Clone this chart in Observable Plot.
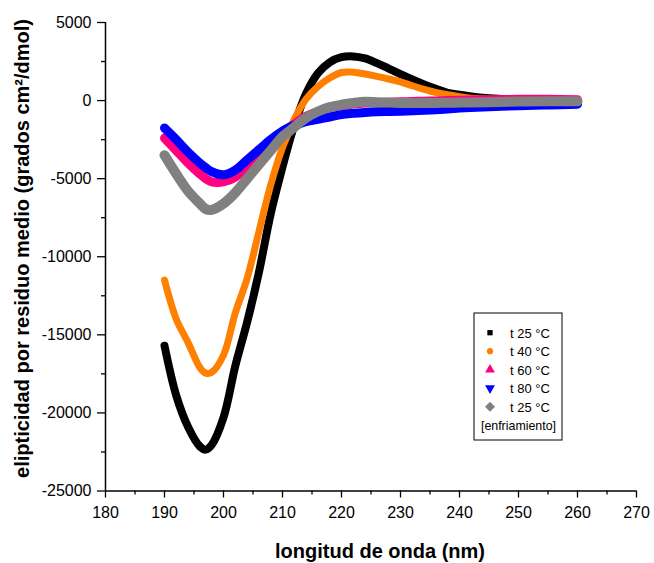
<!DOCTYPE html>
<html><head><meta charset="utf-8">
<script src="https://cdn.jsdelivr.net/npm/d3@7"></script>
<script src="https://cdn.jsdelivr.net/npm/@observablehq/plot@0.6"></script>
<style>
body{margin:0;background:#fff;}
#chart{position:relative;width:654px;height:563px;}
</style></head><body><div id="chart"></div>
<script>
// wavelength (nm)
const wavelength = [190,192,194,196,197,198,200,202,204,206,208,210,211,212,214,216,218,220,222,224,226,228,230,232,234,236,238,240,242,245,250,255,260];
// mean residue ellipticity (grados cm2/dmol)
const t25 = [-15700,-18900,-20900,-22150,-22350,-22050,-20300,-17000,-14200,-11000,-7250,-4250,-2850,-1600,450,1750,2450,2780,2830,2700,2400,2050,1700,1350,1030,750,500,380,260,150,50,0,-50];
const t40 = [-11500,-14000,-15500,-17100,-17450,-17400,-16300,-13600,-11400,-8400,-5400,-3000,-2100,-1200,100,900,1450,1800,1820,1700,1550,1380,1200,950,720,520,380,250,150,80,20,0,0];
const t60 = [-2400,-3200,-4000,-4700,-5000,-5200,-5200,-4900,-4200,-3300,-2600,-2000,-1750,-1500,-1000,-700,-450,-320,-220,-150,-120,-100,-80,-60,-40,-20,0,20,40,60,80,80,60];
const t80 = [-1750,-2500,-3300,-4000,-4300,-4550,-4750,-4450,-3800,-3150,-2500,-1950,-1750,-1600,-1350,-1200,-1050,-900,-820,-760,-720,-700,-680,-650,-620,-580,-540,-480,-440,-400,-330,-280,-230];
const t25cool = [-3500,-4700,-5800,-6600,-6950,-7000,-6600,-5900,-5000,-4100,-3200,-2300,-2000,-1700,-1100,-700,-420,-260,-150,-80,-100,-130,-150,-150,-150,-150,-140,-130,-120,-100,-60,-40,-50];

const seriesNames = ["t 25 °C","t 40 °C","t 60 °C","t 80 °C","t 25 °C"];
const seriesValues = [t25, t40, t60, t80, t25cool];
const seriesColors = ["#000000","#ff8000","#ff0080","#0000ff","#808080"];
const seriesWidths = [8, 7, 9, 9, 10];
const seriesSymbols = ["square","circle","triangle","triangle2","diamond"];

const xTicks = [180,190,200,210,220,230,240,250,260,270];
const xMinor = [185,195,205,215,225,235,245,255,265];
const yTicks = [5000,0,-5000,-10000,-15000,-20000,-25000];
const yMinor = [2500,-2500,-7500,-12500,-17500,-22500];

const rows = [];
seriesValues.forEach((vals, i) => wavelength.forEach((w, j) => rows.push({s: i, w, v: vals[j]})));

const font = "'Liberation Sans', Arial, sans-serif";
const lines = seriesValues.map((_, i) => Plot.line(rows.filter(r => r.s === i), {
  x: "w", y: "v", stroke: seriesColors[i], strokeWidth: seriesWidths[i],
  curve: "catmull-rom", strokeLinecap: "round", strokeLinejoin: "round"
}));

const chart = Plot.plot({
  width: 654, height: 563,
  marginLeft: 105, marginRight: 18, marginTop: 22, marginBottom: 72.5,
  x: {domain: [180, 270]},
  y: {domain: [-25000, 5000]},
  style: {fontFamily: font, fontSize: "16px", color: "#000", background: "#fff", overflow: "visible"},
  marks: [
    ...lines,
    Plot.axisX(xTicks, {tickSize: 7, tickPadding: 9, tickFormat: d => String(d), label: null, strokeWidth: 1.3, fontSize: 16}),
    Plot.axisX(xMinor, {tickSize: 4, tickFormat: () => "", label: null, strokeWidth: 1.3}),
    Plot.axisY(yTicks, {tickSize: 8, tickPadding: 6, tickFormat: d => String(d), label: null, strokeWidth: 1.3, fontSize: 16}),
    Plot.axisY(yMinor, {tickSize: 4, tickFormat: () => "", label: null, strokeWidth: 1.3}),
    Plot.ruleX([180], {strokeWidth: 1.5}),
    Plot.ruleY([-25000], {strokeWidth: 1.5})
  ]
});
document.getElementById("chart").appendChild(chart);

const svg = d3.select(chart);
svg.append("text")
  .attr("transform", "translate(29,248.5) rotate(-90)")
  .attr("text-anchor", "middle")
  .attr("font-family", font).attr("font-weight", "bold").attr("font-size", 20)
  .attr("fill", "#000")
  .text("elipticidad por residuo medio (grados cm²/dmol)");
svg.append("text")
  .attr("x", 380).attr("y", 558)
  .attr("text-anchor", "middle")
  .attr("font-family", font).attr("font-weight", "bold").attr("font-size", 20)
  .attr("fill", "#000")
  .text("longitud de onda (nm)");

// legend
const lg = svg.append("g").attr("transform", "translate(474,313)");
lg.append("rect").attr("width", 88).attr("height", 127).attr("fill", "#fff").attr("stroke", "#000").attr("stroke-width", 1);
const symPath = {
  square: d3.symbol(d3.symbolSquare, 28)(),
  circle: d3.symbol(d3.symbolCircle, 30)(),
  triangle: d3.symbol(d3.symbolTriangle, 42)(),
  triangle2: d3.symbol(d3.symbolTriangle, 42)(),
  diamond: d3.symbol(d3.symbolSquare, 50)()
};
const symRot = {square: 0, circle: 0, triangle: 0, triangle2: 180, diamond: 45};
seriesNames.forEach((name, i) => {
  const y = 19.7 + i * 18.5;
  const t = seriesSymbols[i];
  lg.append("path")
    .attr("d", symPath[t])
    .attr("transform", `translate(16,${y}) rotate(${symRot[t]})`)
    .attr("fill", seriesColors[i]);
  lg.append("text").attr("x", 36).attr("y", y + 4.8).attr("text-anchor", "start")
    .attr("font-family", font).attr("font-size", 13).attr("fill", "#000").text(name);
});
lg.append("text").attr("x", 44.5).attr("y", 19.7 + 5 * 18.5 + 4.8).attr("text-anchor", "middle")
  .attr("font-family", font).attr("font-size", 12.4).attr("fill", "#000").text("[enfriamiento]");
</script></body></html>
